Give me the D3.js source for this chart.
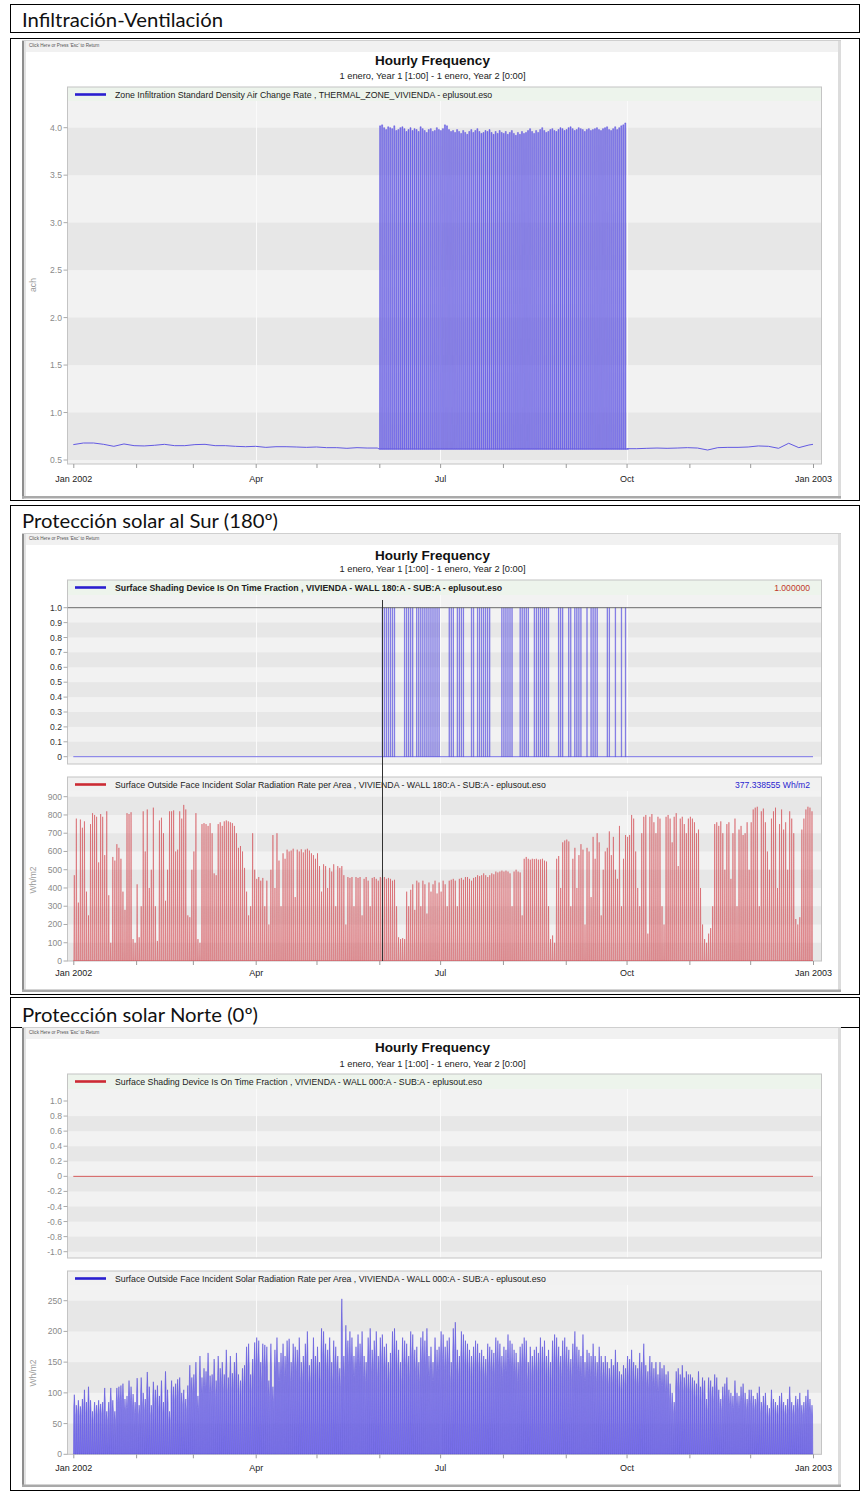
<!DOCTYPE html>
<html><head><meta charset="utf-8">
<script src="https://cdnjs.cloudflare.com/ajax/libs/d3/7.8.5/d3.min.js"></script>
<style>html,body{margin:0;padding:0;background:#fff;}svg{display:block;}</style>
</head><body>
<svg id="chart" width="864" height="1494" xmlns="http://www.w3.org/2000/svg"></svg>
<script>
// ================= DATA =================
const sectionTitles = ["Infiltración-Ventilación", "Protección solar al Sur (180º)", "Protección solar Norte (0º)"];
const chartTitle = "Hourly Frequency";
const chartSubtitle = "1 enero, Year 1 [1:00] - 1 enero, Year 2 [0:00]";
const returnHint = "Click Here or Press 'Esc' to Return";
const xTickLabels = ["Jan 2002", "Apr", "Jul", "Oct", "Jan 2003"];
const xTickMonths = [0, 3, 6, 9, 12];

// --- Infiltration (ach) ---
const infilLegend = "Zone Infiltration Standard Density Air Change Rate , THERMAL_ZONE_VIVIENDA - eplusout.eso";
const infilUnit = "ach";
const infilTicks = [0.5, 1.0, 1.5, 2.0, 2.5, 3.0, 3.5, 4.0];
const infilWinterDays = [0,5,10,15,20,25,30,35,40,45,50,55,60,65,70,75,80,85,90,95,100,105,110,115,120,125,130,135,140,145,150];
const infilWinter = [.662,.679,.679,.665,.644,.669,.651,.648,.655,.665,.651,.651,.662,.665,.651,.651,.644,.640,.644,.633,.640,.640,.637,.633,.637,.630,.630,.623,.630,.626,.626];
const infilAutumnDays = [273,278,283,288,293,298,303,308,313,318,323,328,333,338,343,348,353,358,363,365];
const infilAutumn = [.619,.619,.623,.626,.623,.626,.630,.626,.605,.630,.633,.633,.637,.648,.644,.623,.676,.630,.658,.665];
const infilSummerStart = 151;
const infilSummerLow = 0.615;
const infilSummerPeaks = [
  4.02,4.03,4.00,3.98,4.01,4.00,3.99,4.02,3.97,3.98,4.00,4.01,3.99,3.96,3.98,4.00,3.97,3.99,3.98,3.96,4.01,3.99,3.97,3.95,3.98,3.99,3.96,3.97,4.00,3.98,
  3.97,3.99,4.03,4.02,3.98,3.96,3.97,3.95,3.98,3.96,3.94,3.97,3.95,3.93,3.96,3.98,3.95,3.97,3.99,3.96,3.94,3.95,3.97,3.96,3.98,3.95,3.93,3.96,3.94,3.97,3.95,
  3.94,3.96,3.93,3.95,3.97,3.94,3.92,3.95,3.93,3.96,3.94,3.95,3.97,3.99,3.96,3.94,3.97,3.95,3.98,4.00,3.97,3.95,3.96,3.98,3.99,3.97,3.96,3.98,4.00,3.99,3.97,
  3.98,4.00,4.01,3.99,3.97,3.98,4.00,3.99,3.98,3.96,3.98,3.99,3.97,3.98,3.99,4.00,3.98,3.97,3.99,4.00,4.01,3.98,3.97,3.99,4.01,3.98,4.00,4.02,4.03,4.05];

// --- South shading (fraction) ---
const southShadeLegend = "Surface Shading Device Is On Time Fraction , VIVIENDA - WALL 180:A - SUB:A - eplusout.eso";
const southShadeValue = "1.000000";
const southShadeTicks = [0, 0.1, 0.2, 0.3, 0.4, 0.5, 0.6, 0.7, 0.8, 0.9, 1.0];
const southShadeOnDays = [[152,158],[163,167],[169,180],[185,187],[189,192],[196,197],[199,205],[211,216],[220,224],[227,234],[239,241],[244,245],[247,250],[253,253],[255,258],[263,264],[267,267],[270,270],[272,272]];
const cursorDay = 152.5;

// --- South incident solar radiation (Wh/m2), daily peaks ---
const southRadLegend = "Surface Outside Face Incident Solar Radiation Rate per Area , VIVIENDA - WALL 180:A - SUB:A - eplusout.eso";
const southRadValue = "377.338555 Wh/m2";
const radUnit = "Wh/m2";
const southRadTicks = [0, 100, 200, 300, 400, 500, 600, 700, 800, 900];
const southJan = [470,780,320,775,730,765,380,250,750,810,800,790,540,805,790,580,820,360,100,570,550,640,620,560,380,280,810,805,815,120,100];
const southFeb = [420,130,300,820,600,830,400,500,840,300,110,770,785,700,330,500,820,820,825,600,610,820,780,855,830,250,240,500];
const southMar = [600,810,120,100,750,755,750,740,755,700,480,470,750,760,740,765,770,765,760,755,740,700,620,630,600,510,380,250,300,700,500];
const southApr = [450,460,440,455,300,440,200,500,690,400,700,550,300,590,560,610,600,605,615,350,610,600,612,595,610,615,605,590,580,560];
const southMay = [590,520,380,530,520,400,510,490,530,300,520,510,520,470,200,460,455,460,300,460,455,460,250,450,460,440,300,455,460,450,440];
const southJun = [460,455,460,450,455,450,440,445,300,130,120,125,120,380,300,390,420,280,440,430,300,440,420,260,430,380,420,440,370,430];
const southJul = [380,440,420,300,440,445,450,440,300,450,455,445,460,460,450,440,455,460,470,465,470,480,470,460,470,480,475,490,485,490,495];
const southAug = [490,495,490,480,300,490,500,490,485,250,560,570,560,555,560,558,560,555,557,560,550,545,300,120,140,100,560,575,400,650,660];
const southSep = [665,655,300,560,620,400,580,640,610,200,620,600,350,680,560,700,650,250,500,600,620,710,580,680,500,450,740,300,560,690];
const southOct = [680,690,800,780,600,400,300,700,790,800,150,790,805,760,700,790,780,300,200,790,800,780,650,790,810,520,780,790,750,700,780];
const southNov = [790,780,760,700,720,400,200,120,100,150,180,300,750,760,740,765,700,500,750,760,450,700,780,300,720,740,690,700,760,500];
const southDec = [760,830,840,845,300,820,835,760,600,500,780,820,840,400,750,830,720,760,500,820,780,700,230,200,240,720,780,830,845,840,820];

// --- North shading ---
const northShadeLegend = "Surface Shading Device Is On Time Fraction , VIVIENDA - WALL 000:A - SUB:A - eplusout.eso";
const northShadeTicks = [-1.0, -0.8, -0.6, -0.4, -0.2, 0, 0.2, 0.4, 0.6, 0.8, 1.0];
const northShadeLevel = 0;

// --- North incident solar radiation (Wh/m2), daily peaks ---
const northRadLegend = "Surface Outside Face Incident Solar Radiation Rate per Area , VIVIENDA - WALL 000:A - SUB:A - eplusout.eso";
const northRadTicks = [0, 50, 100, 150, 200, 250];
const northJan = [97,80,88,78,90,105,85,110,88,70,85,80,88,82,85,108,70,85,108,88,70,108,110,112,115,90,95,120,110,98,85];
const northFeb = [124,80,125,100,90,134,110,80,118,105,112,95,120,85,135,105,70,120,110,115,122,125,100,105,90,112,145,125];
const northMar = [130,150,95,160,125,140,135,165,128,130,155,120,160,140,150,130,170,125,160,132,150,165,130,120,140,145,175,180,130,155,182];
const northApr = [190,185,150,180,178,175,120,180,110,170,190,150,165,180,160,185,188,150,180,175,170,190,150,160,180,200,145,155,190,160];
const northMay = [175,150,205,200,180,170,190,150,185,175,160,140,253,160,210,185,200,190,160,175,195,180,200,160,150,190,205,170,185,200,160];
const northJun = [190,195,175,180,150,165,200,205,185,170,150,190,185,180,160,200,195,170,175,150,190,200,185,205,160,175,150,190,170,175];
const northJul = [200,195,175,185,190,150,205,215,170,160,200,195,185,180,170,160,175,185,180,165,170,160,155,180,175,170,165,190,185,180,160];
const northAug = [175,170,195,185,180,170,165,150,175,180,190,185,150,175,160,170,175,165,190,175,185,160,170,150,185,195,190,175,160,185,190];
const northSep = [175,170,155,180,200,175,170,160,195,150,170,165,160,180,160,150,175,160,150,160,150,140,155,145,170,150,135,130,145,140];
const northOct = [160,155,170,150,145,140,165,150,180,145,135,160,150,140,150,130,150,140,145,130,135,115,100,85,135,140,130,145,125,135,130];
const northNov = [130,125,120,115,135,110,125,120,90,125,120,110,130,125,105,90,110,115,125,105,100,95,120,100,95,110,115,100,90,105];
const northDec = [105,95,90,100,110,85,95,100,80,75,105,90,85,80,95,100,85,80,90,110,85,80,95,90,100,80,85,95,105,90,80];

// ================= DRAWING =================
const southRad = [].concat(southJan,southFeb,southMar,southApr,southMay,southJun,southJul,southAug,southSep,southOct,southNov,southDec);
const northRad = [].concat(northJan,northFeb,northMar,northApr,northMay,northJun,northJul,northAug,northSep,northOct,northNov,northDec);

const svg = d3.select("#chart");
const FONT = "'Liberation Sans', Arial, sans-serif";
const T0 = Date.UTC(2002, 0, 1), T1 = Date.UTC(2003, 0, 1);
const x = d3.scaleUtc().domain([new Date(T0), new Date(T1)]).range([73.3, 813]);
const xd = d => x(new Date(T0 + d * 864e5));
const PL = 67.5, PR = 821.5;
const DARK = "#e7e7e7", LIGHT = "#f2f2f2";
let clipN = 0;

function section(s) {
  if (s.header) svg.append("rect").attr("x", 10.5).attr("y", s.header[0]).attr("width", 849).attr("height", s.header[1] - s.header[0]).attr("fill", "none").attr("stroke", "#000");
  svg.append("rect").attr("x", 10.5).attr("y", s.box[0]).attr("width", 849).attr("height", s.box[1] - s.box[0]).attr("fill", "none").attr("stroke", "#000");
  svg.append("text").attr("x", 22).attr("y", s.titleY).attr("font-family", "Lato, 'Open Sans', sans-serif").attr("font-size", 19.5)
    .attr("textLength", s.titleW).attr("lengthAdjust", "spacingAndGlyphs").attr("fill", "#111").text(s.title);
  const [a, b] = s.shot;
  svg.append("rect").attr("x", 22).attr("y", a).attr("width", 819).attr("height", b - a).attr("fill", "#fff");
  svg.append("rect").attr("x", 22).attr("y", a).attr("width", 819).attr("height", 12).attr("fill", "#f1f1f1");
  svg.append("rect").attr("x", 22).attr("y", a).attr("width", 2).attr("height", b - a).attr("fill", "#8e8e8e");
  svg.append("rect").attr("x", 24).attr("y", a).attr("width", 2).attr("height", b - a).attr("fill", "#e2e2e2");
  svg.append("rect").attr("x", 838).attr("y", a).attr("width", 3).attr("height", b - a).attr("fill", "#dcdcdc");
  svg.append("rect").attr("x", 22).attr("y", b - 2.5).attr("width", 819).attr("height", 2.5).attr("fill", "#a9a9a9");
  svg.append("line").attr("x1", 22).attr("x2", 841).attr("y1", a + 0.5).attr("y2", a + 0.5).attr("stroke", "#cfcfcf");
  svg.append("text").attr("x", 29).attr("y", a + 7).attr("font-family", FONT).attr("font-size", 4.6).attr("fill", "#555").text(returnHint);
  svg.append("text").attr("x", 432.5).attr("y", s.hfY).attr("text-anchor", "middle").attr("font-family", FONT).attr("font-size", 13.5).attr("font-weight", "bold").attr("fill", "#111").text(chartTitle);
  svg.append("text").attr("x", 432.5).attr("y", s.subY).attr("text-anchor", "middle").attr("font-family", FONT).attr("font-size", 9.3).attr("fill", "#222").text(chartSubtitle);
}

function panel(c) {
  const g = svg.append("g");
  const pt = c.top + c.legendH;
  g.append("rect").attr("x", PL).attr("y", c.top).attr("width", PR - PL).attr("height", c.bottom - c.top).attr("fill", LIGHT);
  c.ticks.slice(0, -1).forEach((t, i) => {
    if (i % 2 === 0) {
      const y0 = c.y(t), y1 = c.y(c.ticks[i + 1]);
      g.append("rect").attr("x", PL).attr("y", Math.min(y0, y1)).attr("width", PR - PL).attr("height", Math.abs(y0 - y1)).attr("fill", DARK);
    }
  });
  [3, 6, 9].forEach(m => {
    const xx = Math.round(x(new Date(Date.UTC(2002, m, 1)))) + 0.5;
    g.append("line").attr("x1", xx).attr("x2", xx).attr("y1", pt).attr("y2", c.bottom).attr("stroke", "#fafafa").attr("stroke-width", 1);
  });
  g.append("rect").attr("x", PL).attr("y", c.top).attr("width", PR - PL).attr("height", c.legendH).attr("fill", c.legendBg);
  g.append("rect").attr("x", PL).attr("y", c.top).attr("width", PR - PL).attr("height", c.bottom - c.top).attr("fill", "none").attr("stroke", "#c4c4c4");
  c.ticks.forEach(t => {
    const yy = c.y(t);
    g.append("line").attr("x1", PL - 4).attr("x2", PL).attr("y1", yy).attr("y2", yy).attr("stroke", "#aaa");
    g.append("text").attr("x", PL - 5.5).attr("y", yy).attr("dy", "0.35em").attr("text-anchor", "end")
      .attr("font-family", FONT).attr("font-size", 8.6).attr("fill", c.labelColor).text(c.fmt(t));
  });
  const ly = c.top + 7.5;
  g.append("line").attr("x1", 75).attr("x2", 106).attr("y1", ly).attr("y2", ly).attr("stroke", c.legendColor).attr("stroke-width", 2.6);
  g.append("text").attr("x", 115).attr("y", ly + 3).attr("font-family", FONT).attr("font-size", 8.75)
    .attr("font-weight", c.bold ? "bold" : "normal").attr("fill", "#222").text(c.legend);
  if (c.value) g.append("text").attr("x", 810).attr("y", ly + 3).attr("text-anchor", "end").attr("font-family", FONT).attr("font-size", 8.6).attr("fill", c.valueColor).text(c.value);
  if (c.unit) g.append("text").attr("transform", `translate(36,${c.unitY}) rotate(-90)`).attr("text-anchor", "middle")
    .attr("font-family", FONT).attr("font-size", 8.6).attr("fill", "#9a9a9a").text(c.unit);
  const id = "clip" + (clipN++);
  svg.append("clipPath").attr("id", id).append("rect").attr("x", PL).attr("y", pt).attr("width", PR - PL).attr("height", c.bottom - pt);
  return svg.append("g").attr("clip-path", `url(#${id})`);
}

function xAxis(bottom, pad) {
  const ax = d3.axisBottom(x).ticks(d3.utcMonth.every(1)).tickSize(4).tickPadding(pad)
    .tickFormat(d => {
      const m = d.getUTCMonth() + 12 * (d.getUTCFullYear() - 2002);
      const k = xTickMonths.indexOf(m);
      return k >= 0 ? xTickLabels[k] : "";
    });
  const g = svg.append("g").attr("transform", `translate(0,${bottom})`).call(ax);
  g.select(".domain").remove();
  g.selectAll("line").attr("stroke", "#9a9a9a");
  g.selectAll("text").attr("font-family", FONT).attr("font-size", 9).attr("fill", "#222");
}

const fmt1 = v => d3.format(".1f")(v);
const fmtS = v => v === 0 ? "0" : (v < 0 ? "-" : "") + Math.abs(v).toFixed(1);
const fmtI = d3.format("d");

// ---------- Section 1 ----------
section({ title: sectionTitles[0], titleW: 201, header: [4.5, 32.5], box: [38.5, 500.5], titleY: 26.5, shot: [40, 498.5], hfY: 65, subY: 79 });
{
  const y = d3.scaleLinear().domain([0.5, 4.0]).range([460, 127.7]);
  const p = panel({ top: 87, legendH: 14, bottom: 464, y, ticks: infilTicks, fmt: fmt1, labelColor: "#8a8a8a",
    legend: infilLegend, legendColor: "#2a1fd0", bold: false, legendBg: "#edf4ec", unit: infilUnit, unitY: 285 });
  const line = d3.line().x(d => xd(d[0])).y(d => y(d[1]));
  const w = infilWinterDays.map((d, i) => [d, infilWinter[i]]);
  w.push([infilSummerStart, infilSummerLow]);
  p.append("path").attr("d", line(w)).attr("fill", "none").attr("stroke", "#6259e2").attr("stroke-width", 1);
  const a = infilAutumnDays.map((d, i) => [d, infilAutumn[i]]);
  p.append("path").attr("d", line(a)).attr("fill", "none").attr("stroke", "#6259e2").attr("stroke-width", 1);
  p.append("path").attr("d", line([[infilSummerStart, infilSummerLow], [infilSummerStart + infilSummerPeaks.length + 1, infilSummerLow]]))
    .attr("fill", "none").attr("stroke", "#6259e2").attr("stroke-width", 1);
  let dpath = "";
  infilSummerPeaks.forEach((pk, i) => {
    const d = infilSummerStart + i;
    dpath += `M${xd(d + 0.1)},${y(infilSummerLow)}L${xd(d + 0.14)},${y(pk)}L${xd(d + 0.64)},${y(pk)}L${xd(d + 0.68)},${y(infilSummerLow)}Z`;
  });
  p.append("path").attr("d", dpath).attr("fill", "#8780ee").attr("stroke", "#4136da").attr("stroke-width", 0.4);
  xAxis(464, 8);
}

// ---------- Section 2 ----------
section({ title: sectionTitles[1], titleW: 256, header: null, box: [505.5, 994.5], titleY: 528.3, shot: [533, 992], hfY: 560, subY: 572 });
{
  const y = d3.scaleLinear().domain([0, 1]).range([756.7, 607.7]);
  const p = panel({ top: 580, legendH: 15, bottom: 764, y, ticks: southShadeTicks, fmt: fmtS, labelColor: "#333",
    legend: southShadeLegend, legendColor: "#2a1fd0", bold: true, legendBg: "#edf4ec", value: southShadeValue, valueColor: "#c0392b" });
  p.append("line").attr("x1", xd(0)).attr("x2", xd(365)).attr("y1", y(0)).attr("y2", y(0)).attr("stroke", "#7a74e8").attr("stroke-width", 1);
  let dpath = "";
  southShadeOnDays.forEach(([s, e]) => {
    for (let d = s; d <= e; d++) {
      dpath += `M${xd(d + 0.38)},${y(0)}L${xd(d + 0.38)},${y(1)}L${xd(d + 0.6)},${y(1)}L${xd(d + 0.6)},${y(0)}Z`;
    }
  });
  p.append("path").attr("d", dpath).attr("fill", "#b6b1f6").attr("stroke", "#3b30d8").attr("stroke-width", 0.4);
  p.append("line").attr("x1", PL).attr("x2", PR).attr("y1", y(1)).attr("y2", y(1)).attr("stroke", "#6a6a6a").attr("stroke-width", 1);

  const y2 = d3.scaleLinear().domain([0, 900]).range([961, 796.7]);
  const p2 = panel({ top: 777, legendH: 14, bottom: 961, y: y2, ticks: southRadTicks, fmt: fmtI, labelColor: "#8a8a8a",
    legend: southRadLegend, legendColor: "#cc2b34", bold: false, legendBg: "#f1f1f1", value: southRadValue, valueColor: "#2a1fd0", unit: radUnit, unitY: 880 });
  let rp = `M${xd(0)},${y2(0)}`;
  southRad.forEach((v, d) => { rp += `L${xd(d + 0.28)},${y2(0)}L${xd(d + 0.5)},${y2(v)}L${xd(d + 0.72)},${y2(0)}`; });
  rp += `L${xd(365)},${y2(0)}Z`;
  p2.append("path").attr("d", rp).attr("fill", "rgba(222,110,115,0.32)").attr("stroke", "#d2474f").attr("stroke-width", 0.5);
  xAxis(961, 5);
  const cx = Math.round(xd(cursorDay)) + 0.5;
  svg.append("line").attr("x1", cx).attr("x2", cx).attr("y1", 600).attr("y2", 961).attr("stroke", "#333").attr("stroke-width", 1);
}

// ---------- Section 3 ----------
section({ title: sectionTitles[2], titleW: 236, header: [997.5, 1027.5], box: [1027.5, 1490.5], titleY: 1021.7, shot: [1027, 1487], hfY: 1052, subY: 1066.5 });
{
  const y = d3.scaleLinear().domain([-1, 1]).range([1251.7, 1101]);
  const p = panel({ top: 1074, legendH: 15, bottom: 1258, y, ticks: northShadeTicks, fmt: fmtS, labelColor: "#8a8a8a",
    legend: northShadeLegend, legendColor: "#cc2b34", bold: false, legendBg: "#edf4ec" });
  p.append("line").attr("x1", xd(0)).attr("x2", xd(365)).attr("y1", y(northShadeLevel)).attr("y2", y(northShadeLevel)).attr("stroke", "#d45a5a").attr("stroke-width", 1);

  const y2 = d3.scaleLinear().domain([0, 250]).range([1454.3, 1300.7]);
  const p2 = panel({ top: 1271, legendH: 14, bottom: 1454.3, y: y2, ticks: northRadTicks, fmt: fmtI, labelColor: "#8a8a8a",
    legend: northRadLegend, legendColor: "#2a1fd0", bold: false, legendBg: "#f1f1f1", unit: radUnit, unitY: 1373 });
  let rp = `M${xd(0)},${y2(0)}`;
  northRad.forEach((v, d) => {
    rp += `L${xd(d + 0.12)},${y2(0)}L${xd(d + 0.24)},${y2(v * 0.8)}L${xd(d + 0.5)},${y2(v)}L${xd(d + 0.76)},${y2(v * 0.8)}L${xd(d + 0.88)},${y2(0)}`;
  });
  rp += `L${xd(365)},${y2(0)}Z`;
  p2.append("path").attr("d", rp).attr("fill", "#8a82ef").attr("stroke", "#3b2fd6").attr("stroke-width", 0.45);
  xAxis(1454.3, 6);
}
</script>
</body></html>
